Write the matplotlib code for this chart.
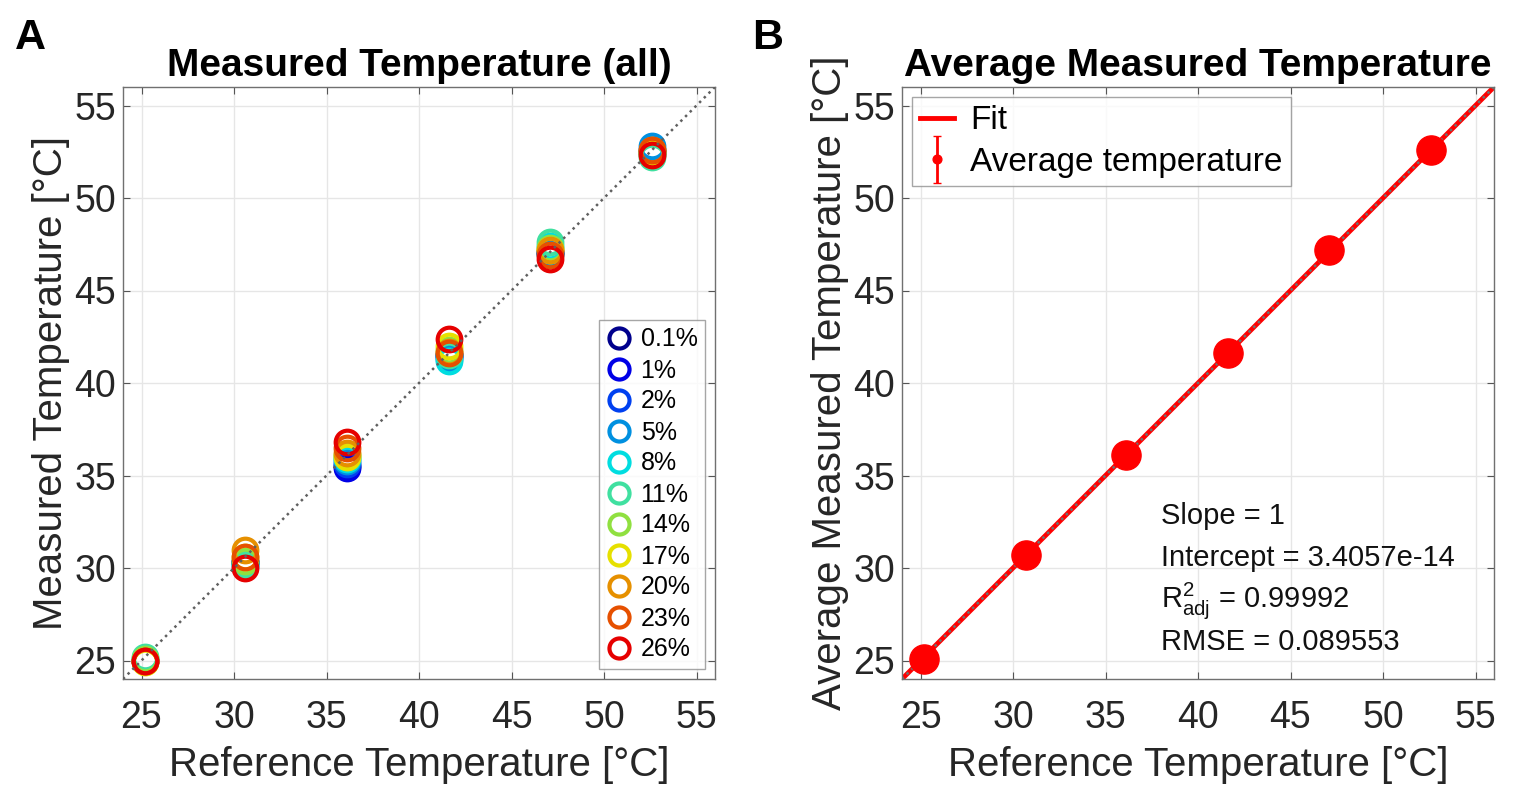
import matplotlib
matplotlib.use("Agg")
import matplotlib.pyplot as plt
import numpy as np
from matplotlib.legend_handler import HandlerErrorbar

plt.rcParams['font.family'] = ['Liberation Sans', 'DejaVu Sans']
plt.rcParams['mathtext.fontset'] = 'custom'
plt.rcParams['mathtext.rm'] = 'Liberation Sans'
plt.rcParams['mathtext.it'] = 'Liberation Sans:italic'

# ---- data ----
ref_temps = [25.2, 30.6, 36.1, 41.6, 47.1, 52.6]
series_labels = ['0.1%', '1%', '2%', '5%', '8%', '11%', '14%', '17%', '20%', '23%', '26%']
series_colors = ['#00008c', '#0000e6', '#0040f0', '#0090e0', '#00dde0', '#40e0a0',
                 '#90e040', '#e6e000', '#e69000', '#e65000', '#e60000']
meas_0p1 = [25.0, 30.3, 35.5, 41.5, 47.1, 52.5]
meas_1   = [25.0, 30.3, 35.4, 41.5, 47.1, 52.5]
meas_2   = [25.0, 30.3, 35.6, 41.4, 47.0, 52.6]
meas_5   = [25.0, 30.2, 35.8, 41.3, 47.0, 52.8]
meas_8   = [25.1, 30.1, 35.9, 41.2, 47.4, 52.4]
meas_11  = [25.2, 30.2, 36.0, 41.5, 47.6, 52.2]
meas_14  = [25.1, 30.4, 36.1, 41.8, 47.3, 52.4]
meas_17  = [24.9, 30.6, 36.0, 42.0, 47.2, 52.5]
meas_20  = [25.0, 31.0, 36.2, 41.7, 47.2, 52.6]
meas_23  = [25.0, 30.6, 36.5, 41.6, 46.9, 52.6]
meas_26  = [25.0, 30.0, 36.8, 42.4, 46.7, 52.3]
all_meas = [meas_0p1, meas_1, meas_2, meas_5, meas_8, meas_11,
            meas_14, meas_17, meas_20, meas_23, meas_26]

avg_ref = [25.2, 30.7, 36.1, 41.6, 47.1, 52.6]
avg_meas = [25.1, 30.7, 36.1, 41.6, 47.2, 52.6]
avg_err = [0.05, 0.05, 0.05, 0.05, 0.05, 0.05]
fit_slope = 1.0
fit_intercept = 3.4057e-14
ticks = [25, 30, 35, 40, 45, 50, 55]
lims = (24, 56)

# ---- figure ----
fig = plt.figure(figsize=(15.2, 8.08), dpi=100)
axA = fig.add_axes([123/1520, 1-679/808, 592/1520, 592/808])
axB = fig.add_axes([902/1520, 1-679/808, 592/1520, 592/808])

tick_color = '#262626'
for ax in (axA, axB):
    ax.set_xlim(*lims)
    ax.set_ylim(*lims)
    ax.set_xticks(ticks)
    ax.set_yticks(ticks)
    ax.grid(True, color='#e6e6e6', linewidth=1.0)
    ax.set_axisbelow(True)
    ax.tick_params(direction='in', length=5, width=0.8, colors='#555555',
                   labelcolor=tick_color, labelsize=27, top=True, right=True)
    ax.tick_params(axis='x', pad=15)
    ax.tick_params(axis='y', pad=5)
    for sp in ax.spines.values():
        sp.set_color('#707070')
        sp.set_linewidth(1.0)
    ax.set_xlabel('Reference Temperature [°C]', fontsize=29, color=tick_color, labelpad=7)

# Panel A
diag = np.array(lims)
for lab, col, vals in zip(series_labels, series_colors, all_meas):
    axA.plot(ref_temps, vals, linestyle='none', marker='o', markersize=17,
             markerfacecolor='none', markeredgecolor=col, markeredgewidth=3.0,
             label=lab, zorder=2)
axA.plot(diag, diag, linestyle=':', color='#606060', linewidth=1.8, zorder=3)
axA.set_title('Measured Temperature (all)', fontsize=28, fontweight='bold', pad=8)
axA.set_ylabel('Measured Temperature [°C]', fontsize=29, color=tick_color, labelpad=3)
legA = axA.legend(loc='lower right', fontsize=18, frameon=True, fancybox=False,
                  edgecolor='#909090', handlelength=1.0, handletextpad=0.35,
                  labelspacing=0.28, borderpad=0.3, borderaxespad=0.4,
                  markerscale=0.85)
legA.get_frame().set_linewidth(1.0)

# Panel B
xfit = np.array(lims)
yfit = fit_slope * xfit + fit_intercept
axB.plot(xfit, yfit, color='#ff0000', linewidth=3.5, label='Fit', zorder=2)
axB.plot(diag, diag, linestyle=':', color='#707070', linewidth=1.8, zorder=3)
axB.errorbar(avg_ref, avg_meas, yerr=avg_err, fmt='o', color='#ff0000',
             markersize=21, capsize=3, elinewidth=2, label='Average temperature', zorder=4)
axB.set_title('Average Measured Temperature', fontsize=28, fontweight='bold', pad=8)
axB.set_ylabel('Average Measured Temperature [°C]', fontsize=29, color=tick_color, labelpad=3)

hdls, labs = axB.get_legend_handles_labels()
legB = axB.legend(hdls, labs, loc='upper left', fontsize=24, frameon=True, fancybox=False,
                  edgecolor='#909090', handlelength=1.0, handletextpad=0.5,
                  labelspacing=0.32, borderpad=0.25, borderaxespad=0.3,
                  handler_map={type(hdls[1]): HandlerErrorbar(xerr_size=0.3, yerr_size=0.7, marker_pad=0.3, numpoints=1)},
                  markerscale=0.3)
legB.get_frame().set_linewidth(1.0)

stats = ['Slope = 1', 'Intercept = 3.4057e-14', r'R$^{2}_{\mathrm{adj}}$ = 0.99992', 'RMSE = 0.089553']
ys = [0.275, 0.205, 0.132, 0.063]
for s, yy in zip(stats, ys):
    axB.text(0.437, yy, s, transform=axB.transAxes, fontsize=21, color='#111111',
             va='center', ha='left')

fig.text(15/1520, 1-38/808, 'A', fontsize=31, fontweight='bold', va='center', ha='left')
fig.text(752/1520, 1-38/808, 'B', fontsize=31, fontweight='bold', va='center', ha='left')

fig.savefig('out.png', dpi=100)
